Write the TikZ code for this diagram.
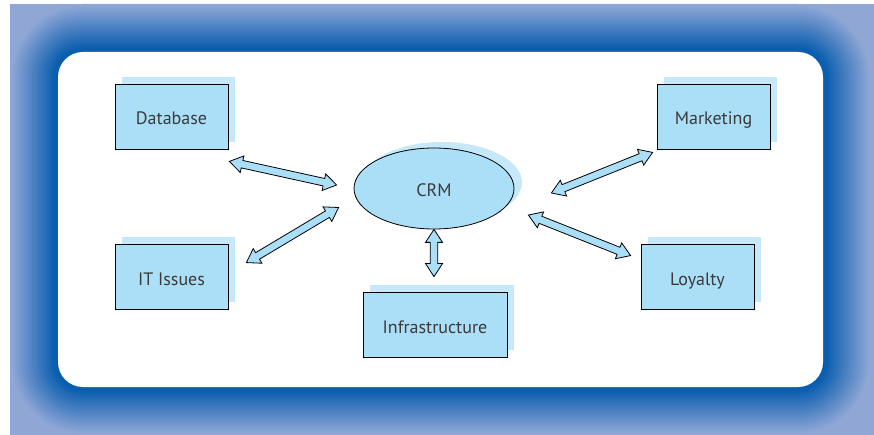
\documentclass[tikz,border=0pt]{standalone}
\usepackage{fontspec}
\setmainfont{PT Sans}
\usetikzlibrary{calc,shapes.geometric,shadows}

\definecolor{boxblue}{HTML}{ABDFF8}
\definecolor{shadowblue}{HTML}{C6E9F9}
\definecolor{framedeep}{HTML}{0A5EAF}
\definecolor{framepale}{HTML}{90A7D6}
\definecolor{textgray}{HTML}{3A3A3A}

\newcommand{\headlen}{13pt}
\newcommand{\headhalf}{8.5pt}
\newcommand{\shafthalf}{3.8pt}
% hollow double-headed arrow between two named points
\newcommand{\dblarrow}[2]{%
  \draw[link] (#1)
    -- ($(#1)!\headlen!(#2)!\headhalf!90:(#2)$)
    -- ($(#1)!\headlen!(#2)!\shafthalf!90:(#2)$)
    -- ($(#2)!\headlen!(#1)!\shafthalf!270:(#1)$)
    -- ($(#2)!\headlen!(#1)!\headhalf!270:(#1)$)
    -- (#2)
    -- ($(#2)!\headlen!(#1)!\headhalf!90:(#1)$)
    -- ($(#2)!\headlen!(#1)!\shafthalf!90:(#1)$)
    -- ($(#1)!\headlen!(#2)!\shafthalf!270:(#2)$)
    -- ($(#1)!\headlen!(#2)!\headhalf!270:(#2)$)
    -- cycle;}

\begin{document}
\begin{tikzpicture}[x=1pt,y=-1pt,
  item/.style={draw=black, line width=0.8pt, fill=boxblue, text=textgray,
    font=\fontsize{18}{20}\selectfont, text height=17pt, text depth=0pt,
    minimum width=113pt, minimum height=65pt},
  box/.style={item, general shadow={fill=shadowblue, shadow xshift=7pt, shadow yshift=7pt}},
  link/.style={draw=black, line width=0.8pt, fill=boxblue, line join=miter}]
  \useasboundingbox (0,0) rectangle (874,435);
  \fill[white] (0,0) rectangle (874,435);

  % frame
  \begin{scope}
    \clip (10,4) rectangle (874,435);
    \fill[framepale] (10,4) rectangle (874,435);
    \foreach \d in {48,46,...,0} {
      \pgfmathsetmacro\pct{max(0,min(100,110-2.3*\d))}
      \pgfmathsetmacro\rad{25+\d}
      \fill[framedeep!\pct!framepale, rounded corners=\rad pt]
        (58-\d,52-\d) rectangle (823+\d,387+\d);
    }
  \end{scope}
  \fill[white, rounded corners=25pt] (58,52) rectangle (823,387);

  \node[box] (db) at (171.5,116.5) {Database};
  \node[box] (mkt) at (713.5,116.5) {Marketing};
  \node[box] (it) at (171.5,276.5) {IT Issues};
  \node[box] (loy) at (697.5,276.5) {Loyalty};
  \node[box, minimum width=144pt] (infra) at (435,324.5) {Infrastructure};
  \node[item, ellipse, minimum width=160pt, minimum height=81pt,
    general shadow={fill=shadowblue, shadow xshift=8pt, shadow yshift=6pt}] (crm) at (434,188.5) {CRM};

  \coordinate (db-e) at ($(db.south east)+(1,12)$);
  \coordinate (crm-dbe) at ($(crm.west)+(-17,-3.5)$);
  \coordinate (it-e) at ($(it.north east)+(18,19)$);
  \coordinate (crm-ite) at ($(crm.west)+(-15,19)$);
  \coordinate (mkt-e) at ($(mkt.south west)+(-4,3)$);
  \coordinate (crm-mkte) at ($(crm.east)+(37,4.5)$);
  \coordinate (crm-loye) at ($(crm.east)+(14,26.5)$);
  \coordinate (loy-e) at ($(loy.north west)+(-10,12)$);
  \coordinate (crm-s) at (crm.south);
  \coordinate (infra-e) at ($(infra.north)+(-1,-15)$);

  \dblarrow{db-e}{crm-dbe}
  \dblarrow{it-e}{crm-ite}
  \dblarrow{mkt-e}{crm-mkte}
  \dblarrow{crm-loye}{loy-e}
  \dblarrow{crm-s}{infra-e}
\end{tikzpicture}
\end{document}
